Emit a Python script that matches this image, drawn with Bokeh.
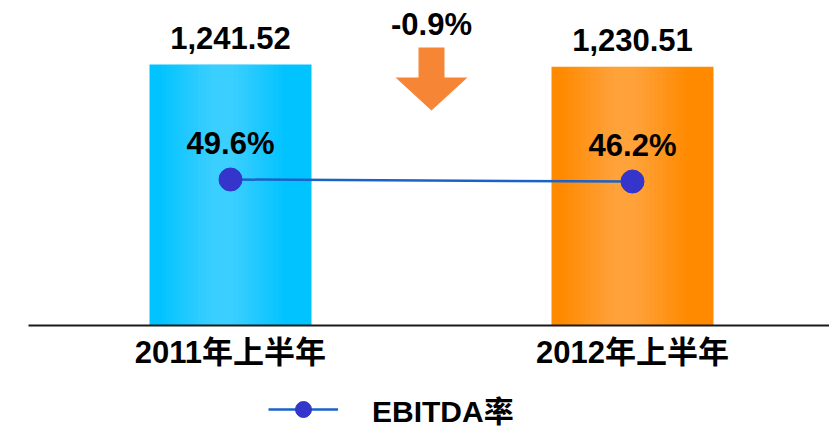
from bokeh.plotting import figure
from bokeh.models import (Range1d, LinearAxis, FixedTicker, Legend, LegendItem,
                          ColumnDataSource)
from bokeh.core.properties import value
from bokeh.embed import file_html
from bokeh.resources import INLINE

# ---- data ----
categories = ["2011年上半年", "2012年上半年"]
revenue = [1241.52, 1230.51]
revenue_labels = ["1,241.52", "1,230.51"]
ebitda_rate = [49.6, 46.2]
rate_labels = ["49.6%", "46.2%"]
series_name = "EBITDA率"
bar_colors = ["#00C3FF", "#FF8A00"]

xpos = [1, 2]
change = (revenue[1] - revenue[0]) / revenue[0] * 100
change_label = f"{change:.1f}%"

# ---- layout constants (pixels) ----
W, H = 829, 430
XS = 402.0          # px per x unit
YS = 0.2102         # px per revenue unit
BASE = 325.0        # canvas y of zero
X0PX = 230.0        # canvas x of first bar centre
x_start = 1 - X0PX / XS
x_end = x_start + W / XS
y_start = -(H - BASE) / YS
y_end = BASE / YS

def cx(px):
    return x_start + px / XS

def cy(py):
    return (BASE - py) / YS

FONT = "Liberation Sans, Noto Sans CJK SC, sans-serif"

p = figure(width=W, height=H, output_backend="svg", toolbar_location=None,
           x_range=Range1d(x_start, x_end), y_range=Range1d(y_start, y_end),
           x_axis_type=None, y_axis_type=None, min_border=0,
           outline_line_color=None, background_fill_color="white",
           border_fill_color="white")
p.xgrid.visible = False
p.ygrid.visible = False

# secondary range for the rate line
RS = 2.0 / 3.4  # px per percent
r_top = ebitda_rate[0] + 179.0 / RS
r_bot = r_top - H / RS
p.extra_y_ranges = {"rate": Range1d(r_bot, r_top)}

# ---- bars with soft vertical highlight ----
bw = 162.0 / XS
src = ColumnDataSource(dict(x=xpos, top=revenue, color=bar_colors))
p.vbar(x="x", top="top", width=bw, bottom=0, fill_color="color",
       line_color=None, source=src)
hl_shift = -0.05 * bw
for i in range(12):
    w = bw * (0.75 - i * 0.055)
    p.vbar(x=[x + hl_shift for x in xpos], top=revenue, width=w, bottom=0,
           fill_color="white", fill_alpha=0.022, line_color=None)

# value labels above bars
p.text(x=xpos, y=revenue, text=revenue_labels, text_align="center",
       text_baseline="middle", y_offset=-27, text_font=value(FONT),
       text_font_style="bold", text_font_size="31px", text_color="black")

# ---- EBITDA rate line ----
ln = p.line(x=xpos, y=ebitda_rate, y_range_name="rate", line_color="#1A62C8",
            line_width=2.5)
sc = p.scatter(x=xpos, y=ebitda_rate, y_range_name="rate", size=23,
               fill_color="#3535CC", line_color="#3535CC")
p.text(x=xpos, y=ebitda_rate, text=rate_labels, y_range_name="rate",
       text_align="center", text_baseline="middle", y_offset=-36,
       text_font=value(FONT), text_font_style="bold", text_font_size="31px",
       text_color="black")

# ---- change arrow and label ----
mid = (xpos[0] + xpos[1]) / 2
sh = 13 / XS
hh = 36 / XS
ax = [mid - sh, mid + sh, mid + sh, mid + hh, mid, mid - hh, mid - sh]
ay = [cy(47), cy(47), cy(77), cy(77), cy(110), cy(77), cy(77)]
p.patch(x=ax, y=ay, fill_color="#F68536", line_color=None)
p.text(x=[mid], y=[cy(24)], text=[change_label], text_align="center",
       text_baseline="middle", text_font=value(FONT), text_font_style="bold",
       text_font_size="31px", text_color="black")

# ---- category axis (baseline) ----
xa = LinearAxis(fixed_location=0, ticker=FixedTicker(ticks=xpos),
                major_label_overrides={x: c for x, c in zip(xpos, categories)},
                major_tick_out=0, major_tick_in=0, minor_tick_out=0,
                minor_tick_in=0, axis_line_color="#1a1a1a", axis_line_width=2,
                major_label_standoff=9, major_label_text_font=FONT,
                major_label_text_font_style="bold",
                major_label_text_font_size="31px",
                major_label_text_color="black",
                bounds=(cx(28), x_end))
p.add_layout(xa, "below")

# ---- legend ----
legend = Legend(items=[LegendItem(label=series_name, renderers=[ln, sc])],
                location=(268, H - 411 - 20), orientation="horizontal",
                glyph_width=70, glyph_height=40, label_height=40,
                label_standoff=34, padding=0, margin=0, spacing=0,
                border_line_color=None, background_fill_alpha=0,
                label_text_font=FONT, label_text_font_style="bold",
                label_text_font_size="30px", label_text_color="black")
p.add_layout(legend, "center")

open("out.html", "w").write(file_html(p, INLINE))
